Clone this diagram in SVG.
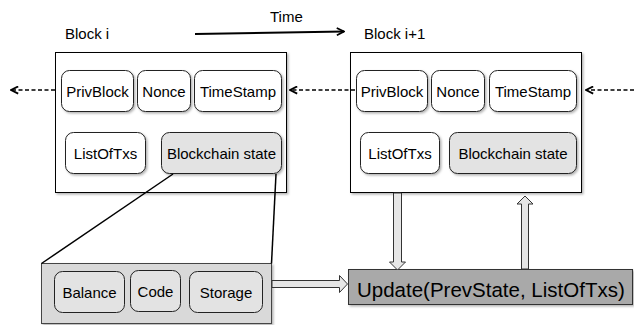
<svg xmlns="http://www.w3.org/2000/svg" width="634" height="325" viewBox="0 0 634 325">
<defs>
<filter id="sh" x="-10%" y="-10%" width="130%" height="130%">
<feDropShadow dx="1.5" dy="1.5" stdDeviation="1" flood-color="#000" flood-opacity="0.3"/>
</filter>
<marker id="chev" viewBox="0 0 10 10" refX="9" refY="5" markerWidth="9" markerHeight="9" markerUnits="userSpaceOnUse" orient="auto">
<path d="M1,1 L9,5 L1,9" fill="none" stroke="#000" stroke-width="2"/>
</marker>
</defs>
<style>
text{font-family:"Liberation Sans",Arial,sans-serif;font-size:15px;fill:#000}
.lbl{text-anchor:middle}
.outer{fill:#fff;stroke:#000;stroke-width:1}
.box{fill:#fff;stroke:#222;stroke-width:1}
.gbox{fill:#e3e3e3;stroke:#222;stroke-width:1}
.dash{fill:none;stroke:#000;stroke-width:1.5;stroke-dasharray:4 2.5}
.fat{fill:#e6e6e6;stroke:#333;stroke-width:1}
</style>

<g id="time">
<text x="270" y="22">Time</text>
<line x1="195" y1="34" x2="344" y2="31.5" stroke="#000" stroke-width="2" marker-end="url(#chev)"/>
</g>

<g id="block-i">
<text x="65" y="39">Block i</text>
<rect class="outer" x="55.5" y="52.5" width="231" height="140" filter="url(#sh)"/>
<rect class="box" x="61.5" y="70.5" width="72" height="41" rx="8" filter="url(#sh)"/>
<text class="lbl" x="97.5" y="97">PrivBlock</text>
<rect class="box" x="137.5" y="70.5" width="53" height="41" rx="8" filter="url(#sh)"/>
<text class="lbl" x="164" y="97">Nonce</text>
<rect class="box" x="194.5" y="70.5" width="87" height="41" rx="8" filter="url(#sh)"/>
<text class="lbl" x="238" y="97">TimeStamp</text>
<rect class="box" x="65.5" y="132.5" width="80" height="41" rx="8" filter="url(#sh)"/>
<text class="lbl" x="105.5" y="159">ListOfTxs</text>
<rect class="gbox" x="161.5" y="132.5" width="120" height="41" rx="8" filter="url(#sh)"/>
<text class="lbl" x="221.5" y="159">Blockchain state</text>
</g>

<g id="block-i1">
<text x="364" y="39">Block i+1</text>
<rect class="outer" x="350.5" y="52.5" width="231" height="140" filter="url(#sh)"/>
<rect class="box" x="356.5" y="70.5" width="71" height="41" rx="8" filter="url(#sh)"/>
<text class="lbl" x="392" y="97">PrivBlock</text>
<rect class="box" x="431.5" y="70.5" width="53" height="41" rx="8" filter="url(#sh)"/>
<text class="lbl" x="458" y="97">Nonce</text>
<rect class="box" x="489.5" y="70.5" width="87" height="41" rx="8" filter="url(#sh)"/>
<text class="lbl" x="533" y="97">TimeStamp</text>
<rect class="box" x="360.5" y="132.5" width="79" height="41" rx="8" filter="url(#sh)"/>
<text class="lbl" x="400" y="159">ListOfTxs</text>
<rect class="gbox" x="449.5" y="132.5" width="127" height="41" rx="8" filter="url(#sh)"/>
<text class="lbl" x="513" y="159">Blockchain state</text>
</g>

<g id="state">
<rect x="41.5" y="263.5" width="230" height="60" fill="#d9d9d9" stroke="#444" stroke-width="1" filter="url(#sh)"/>
<rect class="gbox" x="54.5" y="271.5" width="70" height="41" rx="8"/>
<text class="lbl" x="89.5" y="298">Balance</text>
<rect class="gbox" x="130.5" y="270.5" width="50" height="41" rx="8"/>
<text class="lbl" x="155.5" y="297">Code</text>
<rect class="gbox" x="189.5" y="271.5" width="73" height="41" rx="8"/>
<text class="lbl" x="226" y="298">Storage</text>
</g>

<g id="update">
<rect x="348.5" y="269.5" width="284" height="35" fill="#a9a9a9" stroke="#333" stroke-width="1" filter="url(#sh)"/>
<text x="357" y="297" style="font-size:20.5px">Update(PrevState, ListOfTxs)</text>
</g>

<g id="connectors">
<line class="dash" x1="55" y1="90" x2="11" y2="90" marker-end="url(#chev)"/>
<line class="dash" x1="355" y1="90" x2="290" y2="90" marker-end="url(#chev)"/>
<line class="dash" x1="634" y1="90" x2="586" y2="90" marker-end="url(#chev)"/>
<line x1="173" y1="174" x2="41.5" y2="263.5" stroke="#000" stroke-width="1.5"/>
<line x1="276" y1="174" x2="271.5" y2="263.5" stroke="#000" stroke-width="1.5"/>
<path class="fat" d="M272,280.5 H339.5 V275.5 L347.5,284 L339.5,292.5 V287.5 H272 Z"/>
<path class="fat" d="M393.5,193 V262 H389.5 L397.5,270 L405.5,262 H401.5 V193 Z"/>
<path class="fat" d="M521.5,269 V204 H517 L525,196 L533,204 H528.5 V269 Z"/>
</g>
</svg>
